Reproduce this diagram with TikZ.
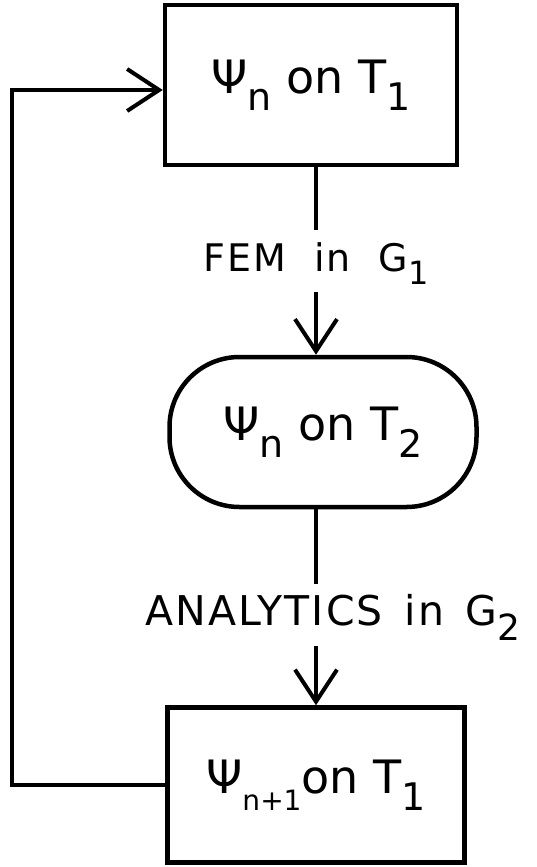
\documentclass[tikz,border=0pt]{standalone}
\usepackage{fontspec}
\setmainfont{DejaVu Sans}
\newfontfamily\spacedfont[LetterSpace=5]{DejaVu Sans}
\usetikzlibrary{positioning, arrows.meta}
\newcommand\lowidx[2][38]{\raisebox{-0.36em}{\fontsize{#1}{#1}\selectfont #2}}

\begin{document}
\begin{tikzpicture}[x=1pt, y=-1pt, >={Straight Barb[length=32pt, width=42pt]},
  box/.style={draw, line width=4.5pt, inner sep=0pt, minimum width=292pt,
              minimum height=160pt, font=\fontsize{46}{50}\selectfont},
  oval/.style={box, rounded corners=70pt, minimum width=307pt, minimum height=150pt},
  lbl/.style={inner sep=0pt, minimum height=62pt, spacedfont},
  spacedfont/.style={font=\spacedfont},
  link/.style={line width=4pt}]
  \useasboundingbox (0,0) rectangle (537,867);
  \node[box] (t1) at (311,85) {Ψ\lowidx{n} on T\lowidx{1}};
  \node[oval] (t2) at (323,432) {Ψ\lowidx{n} on T\lowidx{2}};
  \node[box, minimum width=297pt, minimum height=155pt] (t3) at (316,785)
    {Ψ\lowidx[28]{n+1}on T\lowidx{1}};
  \node[lbl, text height=28pt, text depth=8pt] (fem) at (316,261)
    {\fontsize{38}{40}\selectfont FEM\ \ in\ \ G\lowidx[32]{1}};
  \node[lbl, text height=30pt, text depth=9pt] (ana) at (333,615)
    {\fontsize{41}{44}\selectfont ANALYTICS\ \,in\ \,G\lowidx[36]{2}};
  \draw[link] (t1.south -| fem) -- (fem.north);
  \draw[link, ->] (fem.south) -- (fem.south |- t2.north);
  \draw[link] (t2.south -| t3) -- (ana.north -| t3);
  \draw[link, ->] (ana.south -| t3) -- (t3.north);
  \draw[link, ->] (t3.west) -- ++(-153,0) |- ([yshift=-5pt]t1.west);
\end{tikzpicture}
\end{document}
